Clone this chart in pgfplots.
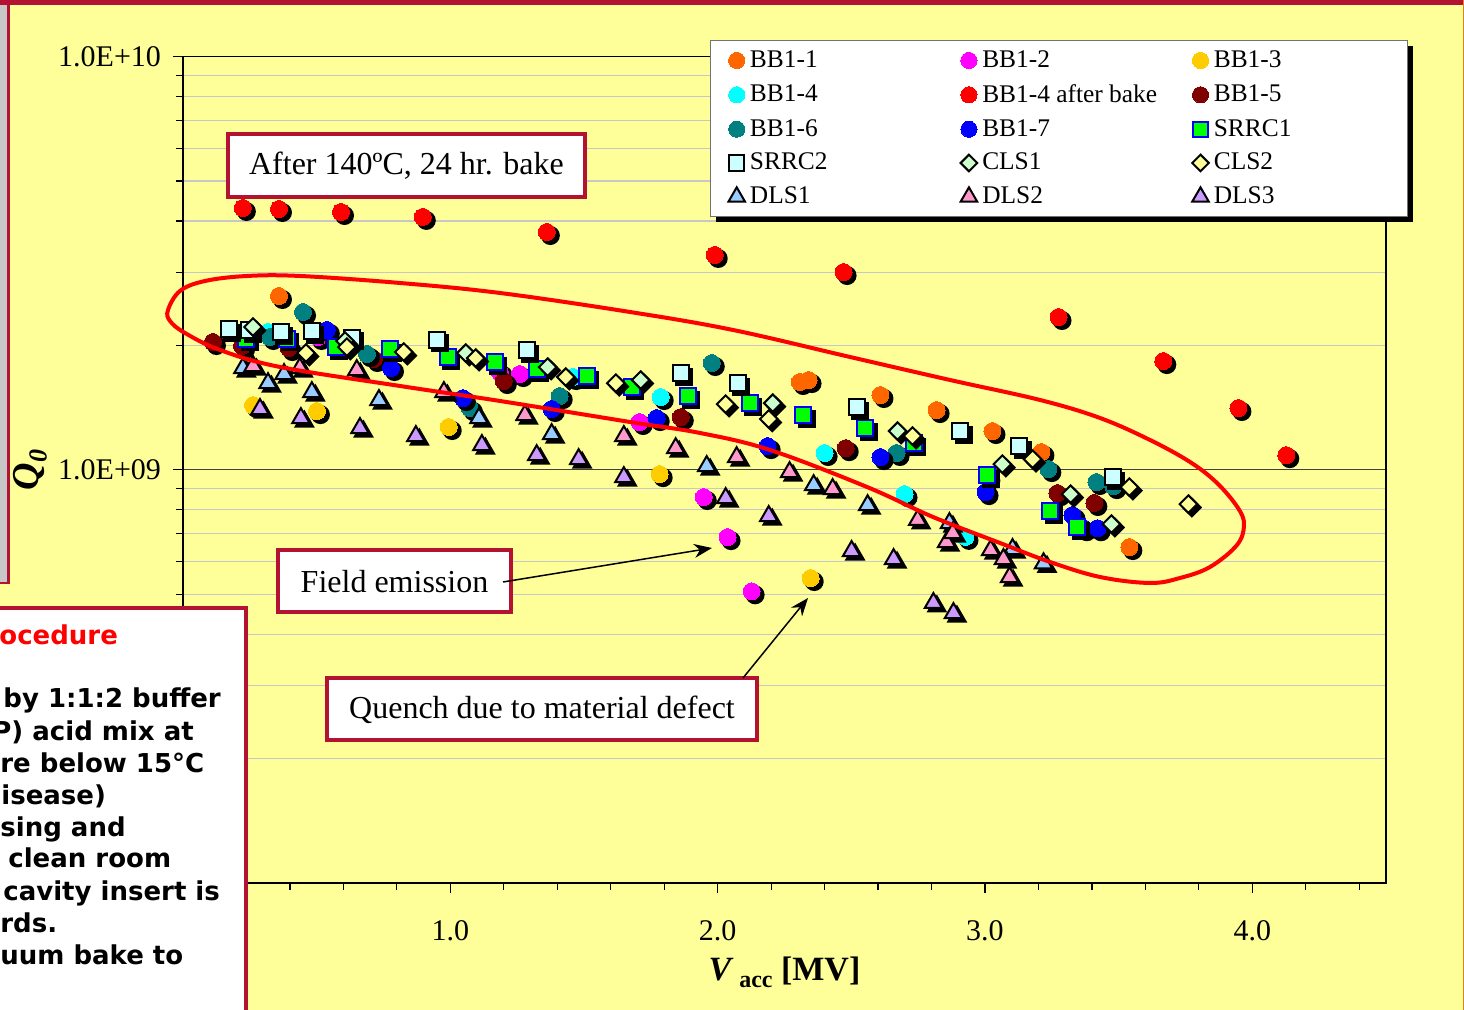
\documentclass[border=0pt]{standalone}
\usepackage{fontspec}
\setmainfont{Liberation Serif}
\newfontfamily\procfont{DejaVu Sans}
\usepackage{pgfplots}
\usepackage{pgfplotstable}
\pgfplotsset{compat=1.18}
\usetikzlibrary{shadows,arrows.meta}

\definecolor{bgyellow}{HTML}{FFFF99}
\definecolor{frame}{HTML}{B31233}
\definecolor{cBBa}{HTML}{FF6600}
\definecolor{cBBb}{HTML}{FF00FF}
\definecolor{cBBc}{HTML}{FFCC00}
\definecolor{cBBd}{HTML}{00FFFF}
\definecolor{cBake}{HTML}{FF0000}
\definecolor{cBBe}{HTML}{800000}
\definecolor{cBBf}{HTML}{008080}
\definecolor{cBBg}{HTML}{0000FF}
\definecolor{cSRa}{HTML}{00FF00}
\definecolor{cSRb}{HTML}{CCFFFF}
\definecolor{cCLa}{HTML}{CCFFCC}
\definecolor{cCLb}{HTML}{FFFF99}
\definecolor{cDLa}{HTML}{99CCFF}
\definecolor{cDLb}{HTML}{FF99CC}
\definecolor{cDLc}{HTML}{CC99FF}

% Vacc [MV]  Q0
\pgfplotstableread{
V Q
0.359 2.634e9
2.307 1.631e9
2.340 1.649e9
2.609 1.517e9
2.819 1.395e9
3.028 1.241e9
3.211 1.104e9
3.540 0.650e9
}\tBBa
\pgfplotstableread{
V Q
0.505 2.096e9
1.185 1.724e9
1.260 1.705e9
1.708 1.305e9
1.948 0.859e9
2.037 0.687e9
2.127 0.508e9
}\tBBb
\pgfplotstableread{
V Q
0.262 1.434e9
0.501 1.387e9
0.994 1.269e9
1.783 0.976e9
2.348 0.547e9
}\tBBc
\pgfplotstableread{
V Q
0.318 2.155e9
1.458 1.677e9
1.787 1.500e9
2.400 1.098e9
2.699 0.873e9
2.927 0.688e9
}\tBBd
\pgfplotstableread{
V Q
0.224 4.302e9
0.359 4.278e9
0.591 4.207e9
0.897 4.093e9
1.361 3.763e9
1.989 3.311e9
2.471 3.011e9
3.275 2.343e9
3.667 1.833e9
3.948 1.411e9
4.127 1.085e9
}\tBake
\pgfplotstableread{
V Q
0.112 2.038e9
0.221 1.993e9
0.396 1.971e9
0.714 1.854e9
1.200 1.640e9
1.862 1.341e9
2.479 1.128e9
3.009 0.960e9
3.271 0.878e9
3.409 0.831e9
}\tBBe
\pgfplotstableread{
V Q
0.449 2.409e9
0.325 2.096e9
0.688 1.906e9
1.073 1.411e9
1.409 1.508e9
1.978 1.813e9
2.669 1.098e9
3.237 1.004e9
3.417 0.934e9
3.480 0.913e9
}\tBBf
\pgfplotstableread{
V Q
0.538 2.179e9
0.778 1.763e9
1.047 1.491e9
1.379 1.403e9
1.772 1.334e9
2.187 1.141e9
2.609 1.073e9
3.002 0.883e9
3.327 0.777e9
3.368 0.722e9
3.421 0.722e9
}\tBBg
\pgfplotstableread{
V Q
0.236 2.073e9
0.389 2.073e9
0.572 1.982e9
0.774 1.960e9
0.991 1.875e9
1.166 1.823e9
1.323 1.753e9
1.510 1.686e9
1.679 1.586e9
1.888 1.508e9
2.120 1.450e9
2.321 1.356e9
2.553 1.262e9
2.733 1.160e9
3.009 0.971e9
3.245 0.794e9
3.346 0.727e9
}\tSRa
\pgfplotstableread{
V Q
0.172 2.191e9
0.247 2.179e9
0.366 2.155e9
0.482 2.167e9
0.632 2.085e9
0.950 2.062e9
1.286 1.949e9
1.862 1.714e9
2.075 1.621e9
2.520 1.419e9
2.908 1.241e9
3.129 1.141e9
3.477 0.960e9
}\tSRb
\pgfplotstableread{
V Q
0.262 2.216e9
0.606 2.050e9
1.058 1.917e9
1.364 1.773e9
1.712 1.649e9
2.206 1.450e9
2.673 1.241e9
3.065 1.032e9
3.320 0.873e9
3.473 0.739e9
}\tCLa
\pgfplotstableread{
V Q
0.460 1.917e9
0.613 1.982e9
0.826 1.928e9
1.095 1.864e9
1.432 1.677e9
1.619 1.621e9
2.030 1.442e9
2.191 1.327e9
2.729 1.207e9
3.178 1.061e9
3.540 0.908e9
3.761 0.826e9
}\tCLb
\pgfplotstableread{
V Q
0.224 1.763e9
0.318 1.621e9
0.378 1.705e9
0.482 1.542e9
0.733 1.475e9
1.107 1.334e9
1.379 1.220e9
1.959 1.021e9
2.359 0.918e9
2.561 0.821e9
2.867 0.743e9
3.103 0.643e9
3.219 0.594e9
}\tDLa
\pgfplotstableread{
V Q
0.262 1.783e9
0.437 1.763e9
0.650 1.743e9
0.976 1.542e9
1.279 1.356e9
1.649 1.207e9
1.843 1.128e9
2.071 1.073e9
2.269 0.987e9
2.430 0.898e9
2.748 0.756e9
2.856 0.668e9
2.879 0.703e9
3.021 0.639e9
3.069 0.608e9
3.092 0.550e9
}\tDLb
\pgfplotstableread{
V Q
0.288 1.403e9
0.441 1.334e9
0.662 1.262e9
0.871 1.207e9
1.118 1.148e9
1.323 1.085e9
1.480 1.061e9
1.649 0.960e9
2.030 0.854e9
2.191 0.773e9
2.501 0.636e9
2.658 0.608e9
2.807 0.476e9
2.882 0.450e9
}\tDLc

\pgfplotsset{
  sh/.style={only marks, forget plot,
    mark options={draw=black, fill=black, line width=1pt, xshift=1.75pt, yshift=-1.75pt, #1}},
  sh/.default={},
  circ/.style={only marks, mark=*, mark size=4.25pt,
    mark options={draw=#1, fill=#1, line width=0pt}},
  sq/.style 2 args={only marks, mark=square*, mark size=4pt,
    mark options={draw=#1, fill=#2, line width=1pt}},
  dia/.style={only marks, mark=square*, mark size=3.1pt,
    mark options={rotate=45, draw=black, fill=#1, line width=1pt}},
  tri/.style={only marks, mark=triangle*, mark size=5pt,
    mark options={draw=black, fill=#1, line width=1pt}},
}

\begin{document}
\begin{tikzpicture}
\path[use as bounding box] (0,0) rectangle (732pt,505pt);
\fill[bgyellow] (0,0) rectangle (732pt,505pt);

\begin{axis}[
  at={(91.5pt,63.5pt)}, anchor=south west,
  scale only axis, width=601.5pt, height=413.15pt,
  xmin=0, xmax=4.5, ymode=log, ymin=1e8, ymax=1e10,
  axis background/.style={fill=bgyellow},
  axis line style={black, line width=0.75pt},
  xtick={1,2,3,4}, xticklabels={1.0,2.0,3.0,4.0},
  minor xtick={0.2,0.4,0.6,0.8,1.2,1.4,1.6,1.8,2.2,2.4,2.6,2.8,3.2,3.4,3.6,3.8,4.2,4.4},
  ytick={1e8,1e9,1e10}, yticklabels={1.0E+08,1.0E+09,1.0E+10},
  minor ytick={2e8,3e8,4e8,5e8,6e8,7e8,8e8,9e8,2e9,3e9,4e9,5e9,6e9,7e9,8e9,9e9},
  xtick pos=lower, ytick pos=left,
  tick align=outside,
  major tick length=5pt, minor tick length=3.5pt,
  every tick/.style={black, line width=0.6pt},
  ymajorgrids, yminorgrids,
  major grid style={black!75, line width=0.6pt},
  minor grid style={black!22, line width=0.6pt},
  ticklabel style={font=\fontsize{15}{18}\selectfont},
  xticklabel style={yshift=-10.5pt},
  yticklabel style={xshift=-2.5pt},
  xlabel={\textbf{\textit{V}\,\raisebox{-0.45ex}{\fontsize{12}{12}\selectfont acc} [MV]}},
  every axis x label/.style={at={(axis description cs:0.5,-0.108)}, anchor=center,
    font=\fontsize{17}{20}\selectfont},
  ylabel={\textbf{\textit{Q}\raisebox{-0.45ex}{\fontsize{13}{13}\selectfont\textit{0}}}},
  every axis y label/.style={at={(axis description cs:-0.127,0.5)}, rotate=90, anchor=center,
    font=\fontsize{19}{21}\selectfont},
  legend columns=3,
  legend cell align=left,
  legend style={at={(0.438,1.0202)}, anchor=north west, fill=white,
    draw=black!55, line width=0.6pt,
    font=\fontsize{12.7}{14}\selectfont,
    inner xsep=9pt, inner ysep=3pt, row sep=3pt,
    /tikz/every odd column/.style={column sep=0.5pt},
    /tikz/column 2/.style={column sep=64.5pt},
    /tikz/column 4/.style={column sep=15.5pt},
    drop shadow={shadow xshift=2.5pt, shadow yshift=-2.5pt, opacity=1, fill=black}},
  legend image code/.code={\draw[mark repeat=2,mark phase=2] plot coordinates {(0cm,0cm) (0.15cm,0cm) (0.3cm,0cm)};},
  legend image post style={/tikz/every mark/.append style={scale=0.95}},
]
\addplot[sh, mark=*, mark size=4.25pt] table {\tBBa};
\addplot[circ=cBBa] table {\tBBa};
\addlegendentry{BB1-1}
\addplot[sh, mark=*, mark size=4.25pt] table {\tBBb};
\addplot[circ=cBBb] table {\tBBb};
\addlegendentry{BB1-2}
\addplot[sh, mark=*, mark size=4.25pt] table {\tBBc};
\addplot[circ=cBBc] table {\tBBc};
\addlegendentry{\makebox[86pt][l]{BB1-3}}
\addplot[sh, mark=*, mark size=4.25pt] table {\tBBd};
\addplot[circ=cBBd] table {\tBBd};
\addlegendentry{BB1-4}
\addplot[sh, mark=*, mark size=4.25pt] table {\tBake};
\addplot[circ=cBake] table {\tBake};
\addlegendentry{BB1-4 after bake}
\addplot[sh, mark=*, mark size=4.25pt] table {\tBBe};
\addplot[circ=cBBe] table {\tBBe};
\addlegendentry{BB1-5}
\addplot[sh, mark=*, mark size=4.25pt] table {\tBBf};
\addplot[circ=cBBf] table {\tBBf};
\addlegendentry{BB1-6}
\addplot[sh, mark=*, mark size=4.25pt] table {\tBBg};
\addplot[circ=cBBg] table {\tBBg};
\addlegendentry{BB1-7}
\addplot[sh, mark=square*, mark size=4pt] table {\tSRa};
\addplot[sq={cBBg}{cSRa}] table {\tSRa};
\addlegendentry{SRRC1}
\addplot[sh, mark=square*, mark size=4pt] table {\tSRb};
\addplot[sq={black}{cSRb}] table {\tSRb};
\addlegendentry{SRRC2}
\addplot[sh={rotate=45}, mark=square*, mark size=3.1pt] table {\tCLa};
\addplot[dia=cCLa] table {\tCLa};
\addlegendentry{CLS1}
\addplot[sh={rotate=45}, mark=square*, mark size=3.1pt] table {\tCLb};
\addplot[dia=cCLb] table {\tCLb};
\addlegendentry{CLS2}
\addplot[sh, mark=triangle*, mark size=5pt] table {\tDLa};
\addplot[tri=cDLa] table {\tDLa};
\addlegendentry{DLS1}
\addplot[sh, mark=triangle*, mark size=5pt] table {\tDLb};
\addplot[tri=cDLb] table {\tDLb};
\addlegendentry{DLS2}
\addplot[sh, mark=triangle*, mark size=5pt] table {\tDLc};
\addplot[tri=cDLc] table {\tDLc};
\addlegendentry{DLS3}
\end{axis}

% annotations, in pixel units measured from the top-left corner
\begin{scope}[x=0.5pt, y=-0.5pt, yshift=505pt]
  % slide frame
  \fill[black!22] (0,0) rectangle (7,583);
  \fill[frame] (0,0) rectangle (1464,5);
  \fill[frame] (7,0) rectangle (9.5,584);
  \fill[frame] (0,582) rectangle (9.5,584.5);
  \fill[orange!60!brown] (1462.5,0) rectangle (1464,1010);

  % group of unbaked cavities
  \draw[red, line width=2pt] plot[smooth cycle, tension=0.6] coordinates {
    (168,310) (180,291) (205,281) (247,276) (300,276) (400,283) (500,293)
    (630,312) (733,330) (850,357) (950,380) (1040,400) (1100,418) (1150,440)
    (1190,462) (1217,483) (1238,508) (1244,525) (1237,545) (1210,567)
    (1180,578) (1150,583) (1100,577) (1050,562) (1000,543) (933,517)
    (867,487) (770,450) (700,433) (630,422) (500,401) (400,386) (280,367)
    (220,350) (185,333) (170,321)};

  % callouts
  \draw[frame, line width=2pt, fill=white] (228,134) rectangle (585,197);
  \node[font=\fontsize{16}{19}\selectfont] at (406.5,166) {After 140ºC, 24 hr. bake};
  \draw[frame, line width=2pt, fill=white] (278,550) rectangle (511,612);
  \node[font=\fontsize{16}{19}\selectfont] at (394.5,582) {Field emission};
  \draw[frame, line width=2pt, fill=white] (327,678) rectangle (757,740);
  \node[font=\fontsize{16}{19}\selectfont] at (542,710) {Quench due to material defect};
  \draw[black, line width=0.75pt, -{Stealth[length=9pt, width=7pt]}] (503,582) -- (712,548);
  \draw[black, line width=0.75pt, -{Stealth[length=9pt, width=7pt]}] (743,678) -- (808,598);

  % procedure panel
  \draw[frame, line width=2pt, fill=white] (-20,608) rectangle (246,1030);
  \begin{scope}[font=\procfont\bfseries\fontsize{13}{16}\selectfont]
    \node[anchor=base west, inner sep=0pt, text=red] at (-1,645) {ocedure};
    \node[anchor=base west, inner sep=0pt] at (3,708) {by 1:1:2 buffer};
    \node[anchor=base west, inner sep=0pt] at (-8,741) {P) acid mix at};
    \node[anchor=base west, inner sep=0pt] at (0,773) {re below 15°C};
    \node[anchor=base west, inner sep=0pt] at (1,805) {isease)};
    \node[anchor=base west, inner sep=0pt] at (0,837) {sing and};
    \node[anchor=base west, inner sep=0pt] at (8,868) {clean room};
    \node[anchor=base west, inner sep=0pt] at (3,901) {cavity insert is};
    \node[anchor=base west, inner sep=0pt] at (0,933) {rds.};
    \node[anchor=base west, inner sep=0pt] at (0,965) {uum bake to};
  \end{scope}
\end{scope}
\end{tikzpicture}
\end{document}
